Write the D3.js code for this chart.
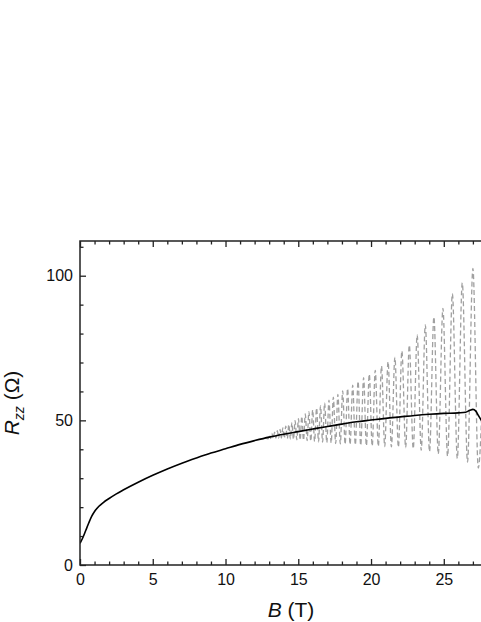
<!DOCTYPE html>
<html>
<head>
<meta charset="utf-8">
<script src="https://cdn.jsdelivr.net/npm/d3@7"></script>
<style>
  body { margin: 0; background: #fff; }
  svg { display: block; font-family: Arial, "Liberation Sans", sans-serif; }
</style>
</head>
<body>
<svg id="chart" width="481" height="622"></svg>
<script>
// averaged Rzz curve (black)
var blackB = [0, 0.2, 0.4, 0.6, 0.8, 1.0, 1.3, 1.6, 2.0, 2.5, 3, 4, 5, 6, 7, 8, 9, 10, 11, 12, 13, 14, 15, 16, 17, 18, 19, 20, 21, 22, 23, 24, 25, 26, 26.5, 26.8, 27.0, 27.2, 27.4, 27.6];
var blackR = [7.5, 9.5, 12, 14.5, 16.8, 18.5, 20.3, 21.6, 23.0, 24.6, 26, 28.6, 31, 33.2, 35.2, 37, 38.7, 40.2, 41.7, 43, 44.2, 45.2, 46.1, 47, 47.9, 48.7, 49.5, 50.1, 50.7, 51.2, 51.7, 52.1, 52.4, 52.6, 52.8, 53.5, 53.8, 53.2, 51.5, 49.8];

// oscillating Rzz (grey dashed), read peak / valley by peak / valley
var oscB = [12.75, 12.93, 13.02, 13.10, 13.19, 13.28, 13.37, 13.46, 13.56, 13.65, 13.75, 13.84, 13.94, 14.04, 14.14, 14.25, 14.35, 14.46, 14.56, 14.67,
            14.78, 14.90, 15.01, 15.13, 15.24, 15.36, 15.48, 15.61, 15.73, 15.86, 15.99, 16.12, 16.26, 16.39, 16.53, 16.67, 16.81, 16.96, 17.11, 17.26,
            17.41, 17.57, 17.72, 17.89, 18.05, 18.22, 18.39, 18.56, 18.74, 18.92, 19.11, 19.29, 19.49, 19.68, 19.88, 20.08, 20.29, 20.50, 20.72, 20.94,
            21.17, 21.40, 21.64, 21.88, 22.12, 22.38, 22.63, 22.90, 23.17, 23.45, 23.73, 24.02, 24.32, 24.62, 24.94, 25.26, 25.59, 25.93, 26.27, 26.63,
            27.00, 27.37, 27.75];
var oscR = [43.9, 43.6, 45.0, 43.7, 45.5, 43.8, 45.9, 43.9, 46.4, 43.9, 46.9, 43.9, 47.4, 43.8, 48.0, 43.7, 48.6, 43.6, 49.2, 43.4,
            49.9, 43.3, 50.6, 43.2, 51.4, 43.1, 52.2, 43.0, 53.0, 42.8, 53.6, 42.7, 54.3, 42.6, 55.0, 42.5, 56.0, 42.3, 57.0, 42.2,
            58.0, 42.0, 59.0, 41.9, 60.2, 41.7, 61.0, 41.6, 62.2, 41.5, 63.5, 41.3, 64.8, 41.2, 66.0, 41.1, 67.3, 41.0, 68.8, 40.9,
            70.3, 40.8, 71.8, 40.7, 74.0, 40.6, 76.0, 40.2, 79.5, 39.7, 83.0, 39.2, 85.8, 38.4, 88.7, 37.6, 93.8, 36.8, 97.6, 35.6,
            102.5, 33.5, 75];

var xMajor = [0, 5, 10, 15, 20, 25];
var yMajor = [0, 50, 100];

var svg = d3.select("#chart");
var pLeft = 80, pRight = 502, pTop = 241, pBottom = 565;

var x = d3.scaleLinear().domain([0, 29]).range([pLeft, pRight]);
var y = d3.scaleLinear().domain([0, 112]).range([pBottom, pTop]);

svg.append("clipPath").attr("id", "clip")
   .append("rect").attr("x", pLeft).attr("y", pTop).attr("width", pRight - pLeft).attr("height", pBottom - pTop);

var plot = svg.append("g").attr("clip-path", "url(#clip)");

var osc = oscB.map(function(b, i){ return [b, oscR[i]]; });
var avg = blackB.map(function(b, i){ return [b, blackR[i]]; });

var line = d3.line().x(function(d){ return x(d[0]); }).y(function(d){ return y(d[1]); }).curve(d3.curveMonotoneX);

plot.append("path").datum(osc).attr("d", line)
    .attr("fill", "none").attr("stroke", "#a0a0a0").attr("stroke-width", 1.3).attr("stroke-dasharray", "5,3");
plot.append("path").datum(avg).attr("d", line)
    .attr("fill", "none").attr("stroke", "#000").attr("stroke-width", 1.6);

//  Axis  //
function styleAxis(g){
    g.select(".domain").remove();
    g.selectAll("line").attr("stroke", "#222").attr("stroke-width", 1.3);
    g.selectAll("text").attr("font-size", 16).attr("fill", "#111");
}
var xMinor = d3.range(0, 30, 1).filter(function(d){ return d % 5 != 0; });
var yMinor = d3.range(0, 113, 10).filter(function(d){ return d % 50 != 0; });

// bottom, ticks pointing inside
svg.append("g").attr("transform", "translate(0," + pBottom + ")")
   .call(d3.axisBottom(x).tickValues(xMajor).tickSize(-6).tickPadding(9).tickFormat(d3.format("d")))
   .call(styleAxis);
svg.append("g").attr("transform", "translate(0," + pBottom + ")")
   .call(d3.axisBottom(x).tickValues(xMinor).tickSize(-3.5).tickFormat(""))
   .call(styleAxis);
// top mirror
svg.append("g").attr("transform", "translate(0," + pTop + ")")
   .call(d3.axisTop(x).tickValues(xMajor).tickSize(-6).tickFormat(""))
   .call(styleAxis);
svg.append("g").attr("transform", "translate(0," + pTop + ")")
   .call(d3.axisTop(x).tickValues(xMinor).tickSize(-3.5).tickFormat(""))
   .call(styleAxis);
// left
svg.append("g").attr("transform", "translate(" + pLeft + ",0)")
   .call(d3.axisLeft(y).tickValues(yMajor).tickSize(-6).tickPadding(7).tickFormat(d3.format("d")))
   .call(styleAxis);
svg.append("g").attr("transform", "translate(" + pLeft + ",0)")
   .call(d3.axisLeft(y).tickValues(yMinor).tickSize(-3.5).tickFormat(""))
   .call(styleAxis);

// frame
svg.append("path")
   .attr("d", "M" + pRight + "," + pTop + "H" + pLeft + "V" + pBottom + "H" + pRight + "V" + pTop)
   .attr("fill", "none").attr("stroke", "#222").attr("stroke-width", 1.5);

// titles
var xt = svg.append("text").attr("x", 291).attr("y", 617).attr("text-anchor", "middle")
   .attr("font-size", 21).attr("fill", "#111");
xt.append("tspan").attr("font-style", "italic").text("B");
xt.append("tspan").text(" (T)");

var yt = svg.append("text").attr("transform", "translate(19,403) rotate(-90)").attr("text-anchor", "middle")
   .attr("font-size", 21).attr("fill", "#111");
yt.append("tspan").attr("font-style", "italic").text("R");
yt.append("tspan").attr("font-style", "italic").attr("font-size", 14).attr("dy", 5).text("zz");
yt.append("tspan").attr("dy", -5).text(" (Ω)");
</script>
</body>
</html>
